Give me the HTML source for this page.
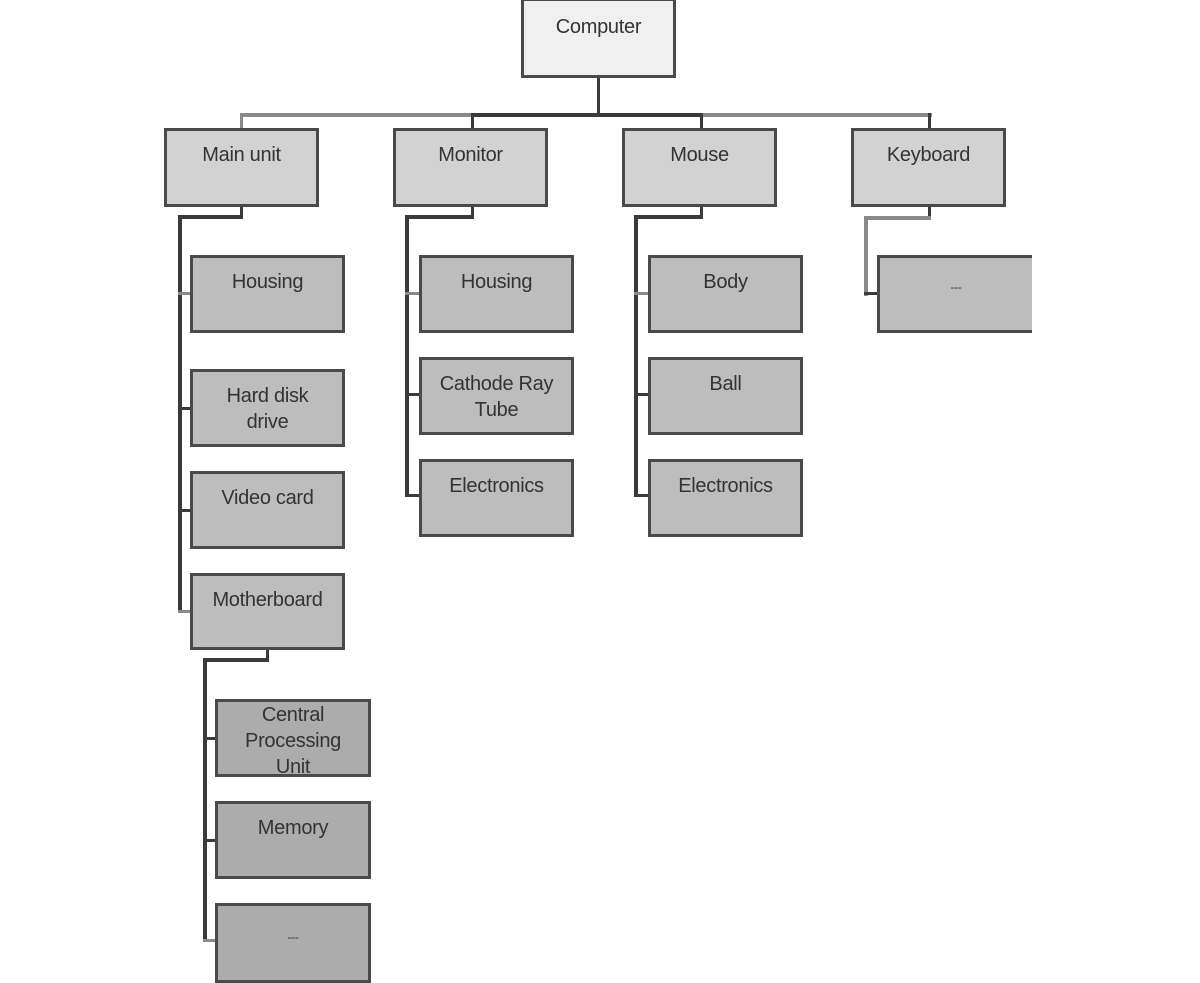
<!DOCTYPE html>
<html><head><meta charset="utf-8"><style>
body{margin:0;width:1200px;height:981px;background:#fff;position:relative;overflow:hidden;font-family:"Liberation Sans",sans-serif}
.b{position:absolute;box-sizing:border-box;border:3px solid #4a4a4a;text-align:center;color:#333;font-size:20px;line-height:26px;padding-top:11px;letter-spacing:-0.3px}
.l0{background:#f0f0f0}.l1{background:#d2d2d2}.l2{background:#bdbdbd}.l3{background:#acacac}
.ln{position:absolute;background:#3a3a3a}
.g{background:#8a8a8a}
</style></head><body>
<div class="ln g" style="left:240px;top:113px;width:692px;height:4px"></div>
<div class="ln" style="left:471px;top:113px;width:232px;height:4px"></div>
<div class="ln" style="left:597px;top:76px;width:3px;height:40px"></div>
<div class="ln g" style="left:240px;top:113px;width:3px;height:17px"></div>
<div class="ln" style="left:471px;top:113px;width:3px;height:17px"></div>
<div class="ln" style="left:700px;top:113px;width:3px;height:17px"></div>
<div class="ln" style="left:928px;top:113px;width:3px;height:17px"></div>

<div class="ln" style="left:240px;top:204px;width:3px;height:14px"></div>
<div class="ln" style="left:178px;top:215px;width:65px;height:4px"></div>
<div class="ln" style="left:178px;top:215px;width:4px;height:398px"></div>
<div class="ln g" style="left:178px;top:292px;width:14px;height:3px"></div>
<div class="ln" style="left:178px;top:407px;width:14px;height:3px"></div>
<div class="ln" style="left:178px;top:509px;width:14px;height:3px"></div>
<div class="ln g" style="left:178px;top:610px;width:14px;height:3px"></div>

<div class="ln" style="left:471px;top:204px;width:3px;height:14px"></div>
<div class="ln" style="left:405px;top:215px;width:69px;height:4px"></div>
<div class="ln" style="left:405px;top:215px;width:4px;height:282px"></div>
<div class="ln g" style="left:405px;top:292px;width:16px;height:3px"></div>
<div class="ln" style="left:405px;top:393px;width:16px;height:3px"></div>
<div class="ln" style="left:405px;top:494px;width:16px;height:3px"></div>

<div class="ln" style="left:700px;top:204px;width:3px;height:14px"></div>
<div class="ln" style="left:634px;top:215px;width:69px;height:4px"></div>
<div class="ln" style="left:634px;top:215px;width:4px;height:282px"></div>
<div class="ln g" style="left:634px;top:292px;width:16px;height:3px"></div>
<div class="ln" style="left:634px;top:393px;width:16px;height:3px"></div>
<div class="ln" style="left:634px;top:494px;width:16px;height:3px"></div>

<div class="ln" style="left:928px;top:204px;width:3px;height:16px"></div>
<div class="ln g" style="left:864px;top:216px;width:67px;height:4px"></div>
<div class="ln g" style="left:864px;top:216px;width:4px;height:80px"></div>
<div class="ln" style="left:864px;top:292px;width:16px;height:3px"></div>

<div class="ln" style="left:266px;top:647px;width:3px;height:14px"></div>
<div class="ln" style="left:203px;top:658px;width:66px;height:4px"></div>
<div class="ln" style="left:203px;top:658px;width:4px;height:284px"></div>
<div class="ln" style="left:203px;top:737px;width:15px;height:3px"></div>
<div class="ln" style="left:203px;top:839px;width:15px;height:3px"></div>
<div class="ln g" style="left:203px;top:939px;width:15px;height:3px"></div>

<div class="b l0" style="left:521px;top:-2px;width:155px;height:80px;padding-top:13px">Computer</div>
<div class="b l1" style="left:164px;top:128px;width:155px;height:79px">Main unit</div>
<div class="b l1" style="left:393px;top:128px;width:155px;height:79px">Monitor</div>
<div class="b l1" style="left:622px;top:128px;width:155px;height:79px">Mouse</div>
<div class="b l1" style="left:851px;top:128px;width:155px;height:79px">Keyboard</div>

<div class="b l2" style="left:190px;top:255px;width:155px;height:78px">Housing</div>
<div class="b l2" style="left:190px;top:369px;width:155px;height:78px">Hard disk<br>drive</div>
<div class="b l2" style="left:190px;top:471px;width:155px;height:78px">Video card</div>
<div class="b l2" style="left:190px;top:573px;width:155px;height:77px">Motherboard</div>

<div class="b l2" style="left:419px;top:255px;width:155px;height:78px">Housing</div>
<div class="b l2" style="left:419px;top:357px;width:155px;height:78px">Cathode Ray<br>Tube</div>
<div class="b l2" style="left:419px;top:459px;width:155px;height:78px">Electronics</div>

<div class="b l2" style="left:648px;top:255px;width:155px;height:78px">Body</div>
<div class="b l2" style="left:648px;top:357px;width:155px;height:78px">Ball</div>
<div class="b l2" style="left:648px;top:459px;width:155px;height:78px">Electronics</div>

<div class="b l2" style="left:877px;top:255px;width:155px;height:78px;border-right:none;padding-top:16px;font-size:12px">---</div>

<div class="b l3" style="left:215px;top:699px;width:156px;height:78px;padding-top:0">Central<br>Processing<br>Unit</div>
<div class="b l3" style="left:215px;top:801px;width:156px;height:78px">Memory</div>
<div class="b l3" style="left:215px;top:903px;width:156px;height:80px;padding-top:18px;font-size:12px">---</div>
</body></html>
